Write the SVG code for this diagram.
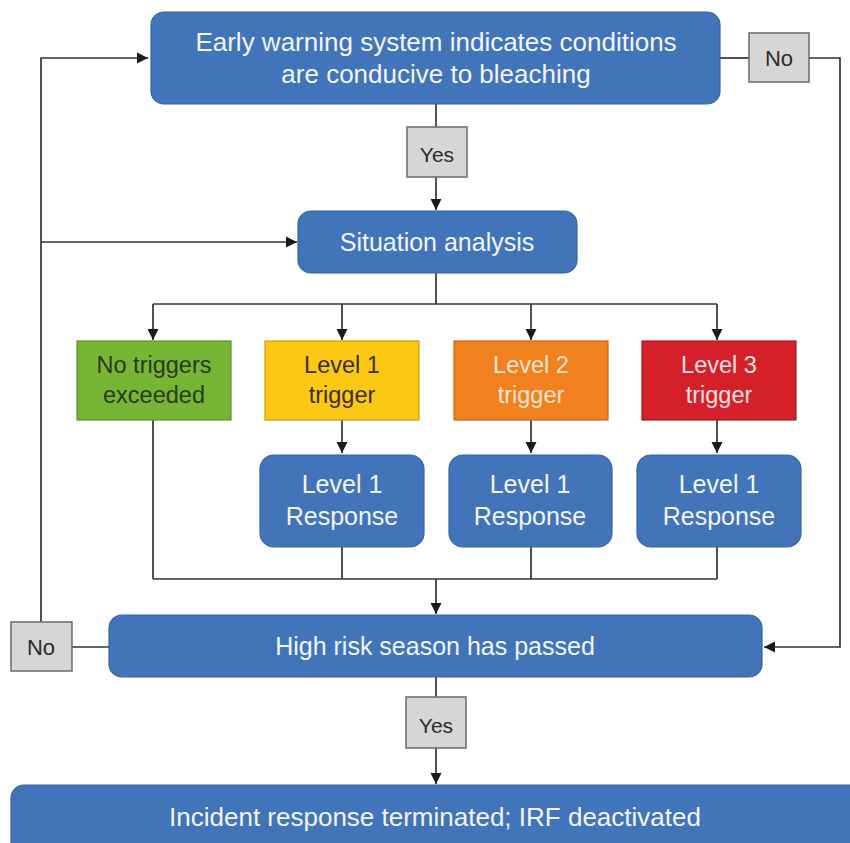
<svg xmlns="http://www.w3.org/2000/svg" width="850" height="843" viewBox="0 0 850 843">
<style>
.blue{fill:#4174b8;stroke:#35649f;stroke-width:1.2}
.gray{fill:#d6d6d6;stroke:#6a6a6a;stroke-width:1.5}
.ln{fill:none;stroke:#333;stroke-width:1.7}
text{font-family:"Liberation Sans",Arial,sans-serif;text-anchor:middle}
.wt{fill:#f2f6fc;font-size:25px}
.big{font-size:26px}
.lb{fill:#2b2b2b;font-size:21px}
.tr{font-size:23.5px}
</style>
<defs>
<marker id="a" viewBox="0 0 12 12" refX="12" refY="6" markerWidth="11" markerHeight="12" markerUnits="userSpaceOnUse" orient="auto">
<path d="M0,0 L12,6 L0,12 z" fill="#1a1a1a"/>
</marker>
</defs>
<rect width="850" height="843" fill="#fff"/>
<g id="connectors">
<line class="ln" x1="436" y1="104" x2="436" y2="127"/>
<line class="ln" x1="436" y1="177" x2="436" y2="210" marker-end="url(#a)"/>
<line class="ln" x1="720" y1="58" x2="749" y2="58"/>
<polyline class="ln" points="809,58 840,58 840,647 764,647" marker-end="url(#a)"/>
<polyline class="ln" points="41,622 41,58 148,58" marker-end="url(#a)"/>
<line class="ln" x1="41" y1="242" x2="297" y2="242" marker-end="url(#a)"/>
<line class="ln" x1="436" y1="273" x2="436" y2="304"/>
<line class="ln" x1="153" y1="304" x2="717" y2="304"/>
<line class="ln" x1="153" y1="304" x2="153" y2="340" marker-end="url(#a)"/>
<line class="ln" x1="342" y1="304" x2="342" y2="340" marker-end="url(#a)"/>
<line class="ln" x1="531" y1="304" x2="531" y2="340" marker-end="url(#a)"/>
<line class="ln" x1="717" y1="304" x2="717" y2="340" marker-end="url(#a)"/>
<line class="ln" x1="342" y1="420" x2="342" y2="453" marker-end="url(#a)"/>
<line class="ln" x1="531" y1="420" x2="531" y2="453" marker-end="url(#a)"/>
<line class="ln" x1="717" y1="420" x2="717" y2="453" marker-end="url(#a)"/>
<line class="ln" x1="153" y1="420" x2="153" y2="579"/>
<line class="ln" x1="342" y1="547" x2="342" y2="579"/>
<line class="ln" x1="531" y1="547" x2="531" y2="579"/>
<line class="ln" x1="717" y1="547" x2="717" y2="579"/>
<line class="ln" x1="153" y1="579" x2="717" y2="579"/>
<line class="ln" x1="436" y1="579" x2="436" y2="614" marker-end="url(#a)"/>
<line class="ln" x1="72" y1="647" x2="109" y2="647"/>
<line class="ln" x1="436" y1="677" x2="436" y2="697"/>
<line class="ln" x1="436" y1="748" x2="436" y2="784" marker-end="url(#a)"/>
</g>
<g id="early-warning">
<rect class="blue" x="151" y="12" width="569" height="92" rx="13"/>
<text class="wt big" x="436" y="51">Early warning system indicates conditions</text>
<text class="wt big" x="436" y="83">are conducive to bleaching</text>
</g>
<g id="no-top">
<rect class="gray" x="749" y="33" width="60" height="49"/>
<text class="lb" x="779" y="66" style="font-size:22px">No</text>
</g>
<g id="yes-top">
<rect class="gray" x="407" y="127" width="60" height="50"/>
<text class="lb" x="437" y="162">Yes</text>
</g>
<g id="situation">
<rect class="blue" x="298" y="211" width="279" height="62" rx="13"/>
<text class="wt" x="437" y="251">Situation analysis</text>
</g>
<g id="no-triggers">
<rect x="77" y="341" width="154" height="79" fill="#77b535" stroke="#5e8f2a" stroke-width="1.2"/>
<text class="tr" x="154" y="373" fill="#2a3a18">No triggers</text>
<text class="tr" x="154" y="403" fill="#2a3a18">exceeded</text>
</g>
<g id="level1-trigger">
<rect x="265" y="341" width="154" height="79" fill="#fcc814" stroke="#c99b10" stroke-width="1.2"/>
<text class="tr" x="342" y="373" fill="#3a2f10">Level 1</text>
<text class="tr" x="342" y="403" fill="#3a2f10">trigger</text>
</g>
<g id="level2-trigger">
<rect x="454" y="341" width="154" height="79" fill="#f1811f" stroke="#c4661a" stroke-width="1.2"/>
<text class="tr" x="531" y="373" fill="#fde6cf">Level 2</text>
<text class="tr" x="531" y="403" fill="#fde6cf">trigger</text>
</g>
<g id="level3-trigger">
<rect x="642" y="341" width="154" height="79" fill="#d5202a" stroke="#a8181f" stroke-width="1.2"/>
<text class="tr" x="719" y="373" fill="#fbe1e1">Level 3</text>
<text class="tr" x="719" y="403" fill="#fbe1e1">trigger</text>
</g>
<g id="response1">
<rect class="blue" x="260" y="455" width="164" height="92" rx="14"/>
<text class="wt" x="342" y="493">Level 1</text>
<text class="wt" x="342" y="525">Response</text>
</g>
<g id="response2">
<rect class="blue" x="449" y="455" width="163" height="92" rx="14"/>
<text class="wt" x="530" y="493">Level 1</text>
<text class="wt" x="530" y="525">Response</text>
</g>
<g id="response3">
<rect class="blue" x="637" y="455" width="164" height="92" rx="14"/>
<text class="wt" x="719" y="493">Level 1</text>
<text class="wt" x="719" y="525">Response</text>
</g>
<g id="high-risk">
<rect class="blue" x="109" y="615" width="653" height="62" rx="13"/>
<text class="wt" x="435" y="655">High risk season has passed</text>
</g>
<g id="no-bottom">
<rect class="gray" x="11" y="622" width="61" height="49"/>
<text class="lb" x="41" y="655" style="font-size:22px">No</text>
</g>
<g id="yes-bottom">
<rect class="gray" x="406" y="697" width="60" height="51"/>
<text class="lb" x="436" y="733">Yes</text>
</g>
<g id="terminated">
<rect class="blue" x="11" y="785" width="855" height="80" rx="13"/>
<text class="wt big" x="435" y="826">Incident response terminated; IRF deactivated</text>
</g>
</svg>
